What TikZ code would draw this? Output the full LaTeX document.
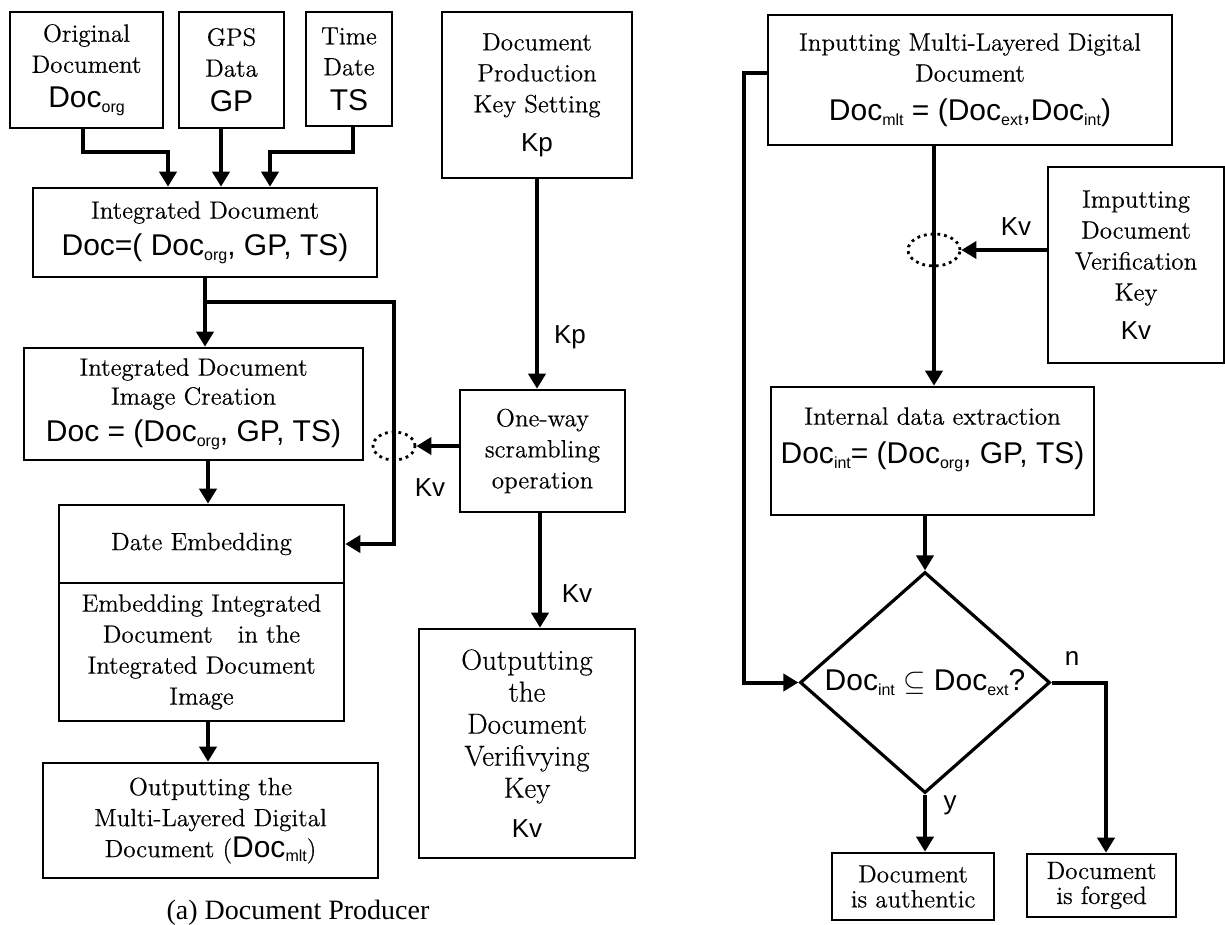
\documentclass[tikz,border=0pt]{standalone}
\usepackage{fontspec}
\usepackage{tikz}
\usetikzlibrary{arrows.meta,shapes.geometric,calc}
\setmainfont{Latin Modern Roman}[FakeBold=0.4]
\newfontfamily\gfont{Liberation Sans}
\newfontfamily\capfont{Liberation Serif}
\definecolor{ink}{HTML}{000000}
\newcommand\rmtext{\fontsize{12.5}{15.5}\selectfont}
\newcommand\rmbig{\fontsize{14.5}{16}\selectfont}
\newcommand\gdoc[1]{{\gfont\fontsize{15}{18}\selectfont #1}}
\newcommand\gkey{\gfont\fontsize{13}{15}\selectfont}
\newcommand\sub[1]{\raisebox{-0.3ex}{\fontsize{8}{8}\selectfont #1}}
\tikzset{
  box/.style={draw=ink,line width=1.3pt,align=center,font=\rmtext,inner sep=2pt},
  bigbox/.style={box,font=\rmbig},
  arr/.style={-{Triangle[length=7.5pt,width=8.5pt]},line width=2pt,draw=ink},
  ring/.style={draw=ink,ellipse,line width=1.4pt,dash pattern=on 1.4pt off 2pt,inner sep=0pt},
  lab/.style={font=\gkey,inner sep=1pt},
}

\begin{document}
\begin{tikzpicture}[x=0.5pt,y=-0.5pt]
\useasboundingbox (0,0) rectangle (1225,925);
% (a) producer side
\node[box,minimum width=76.5pt,minimum height=58pt] (org) at (86.5,70) {Original\\Document\\[2pt]\gdoc{Doc\sub{org}}};
\node[box,minimum width=52.5pt,minimum height=58pt] (gps) at (231.5,70) {GPS\\Data\\[2pt]\gdoc{GP}};
\node[box,minimum width=43pt,minimum height=57pt] (time) at (349,69) {Time\\Date\\[2pt]\gdoc{TS}};
\node[box,minimum width=172pt,minimum height=44.5pt] (integ) at (205,232.5) {Integrated Document\\[3pt]\gdoc{Doc=( Doc\sub{org}, GP, TS)}};
\node[box,minimum width=169.5pt,minimum height=56pt] (imgc) at (193.5,404) {Integrated Document\\[-1pt]Image Creation\\[3pt]\gdoc{Doc = (Doc\sub{org}, GP, TS)}};
\node[box,minimum width=142.5pt,minimum height=39pt] (date) at (201.5,544) {Date Embedding};
\node[box,minimum width=142.5pt,minimum height=69pt] (embed) at (201.5,652) {Embedding Integrated\\Document\quad in the\\Integrated Document\\Image};
\node[box,minimum width=167.5pt,minimum height=57.5pt] (outl) at (210.5,820.5) {Outputting the\\Multi-Layered Digital\\Document (\gdoc{Doc\sub{mlt}})};
\node[box,minimum width=95pt,minimum height=83pt] (key) at (537,95) {Document\\Production\\Key Setting\\[4pt]{\gkey Kp}};
\node[box,minimum width=82.5pt,minimum height=61pt] (oneway) at (542.5,451) {One-way\\scrambling\\operation};
\node[bigbox,minimum width=108pt,minimum height=114.5pt] (verout) at (527,743.5) {Outputting\\the\\Document\\Verifivying\\Key\\[4pt]{\gkey Kv}};
\node[ring,minimum width=21pt,minimum height=14pt] (lring) at (394,446) {};
\node[font=\capfont\fontsize{14}{16}\selectfont] (capa) at (298,913) {(a) Document Producer};
\coordinate (jn) at (205,302);
\draw[arr] (org.south -| 83,0) |- (168,152) -- (integ.north -| 168,0);
\draw[arr] (gps.south -| 221,0) -- (integ.north -| 221,0);
\draw[arr] (time.south -| 353,0) |- (270,152) -- (integ.north -| 270,0);
\draw[line width=2pt] (integ.south) -- (jn);
\draw[arr] (jn) -- (imgc.north -| jn);
\draw[arr] (jn) -| (lring.center) |- (date.east);
\draw[arr] (imgc.south -| 208,0) -- (date.north -| 208,0);
\draw[arr] (embed.south -| 208,0) -- (outl.north -| 208,0);
\draw[arr] (key.south) -- (key.south |- oneway.north);
\draw[arr] (oneway.west |- lring) -- (lring.east);
\draw[arr] (oneway.south -| 540,0) -- (verout.north -| 540,0);
\node[lab] (kp) at (570,337) {Kp};
\node[lab] (kvl) at (430,488) {Kv};
\node[lab] (kvo) at (577,594) {Kv};
% (b) verifier side
\node[box,minimum width=202pt,minimum height=65pt] (input) at (970,80) {Inputting Multi-Layered Digital\\Document\\[4pt]\gdoc{Doc\sub{mlt} = (Doc\sub{ext},Doc\sub{int})}};
\node[box,minimum width=88pt,minimum height=98pt,text depth=0pt] (verin) at (1136,265) {Imputting\\Document\\Verification\\Key\\[4pt]{\gkey Kv}};
\node[box,minimum width=161.5pt,minimum height=64pt] (internal) at (932.5,451) {Internal data extraction\\[4pt]\gdoc{Doc\sub{int}= (Doc\sub{org}, GP, TS)}\\ \mbox{}};
\node[diamond,draw=ink,line width=1.6pt,minimum width=125pt,minimum height=110.5pt,inner sep=0pt,
  label={[font=\gfont\fontsize{15}{18}\selectfont]center:Doc\sub{int} $\subseteq$ Doc\sub{ext}?}] (dia) at (925,682.5) {};
\node[box,minimum width=81pt,minimum height=33.5pt,inner sep=1pt,font=\fontsize{12.5}{12.5}\selectfont] (auth) at (913,886.5) {Document\\is authentic};
\node[box,minimum width=74.5pt,minimum height=31.5pt,inner sep=1pt,font=\fontsize{12.5}{12.5}\selectfont] (forged) at (1101.5,885.5) {Document\\is forged};
\node[ring,minimum width=26pt,minimum height=16pt] (rring) at (934,250) {};
\draw[arr] (input.west |- 0,73) -- (744,73) |- (dia.west);
\draw[arr] (input.south -| rring) -- (internal.north -| rring);
\draw[arr] (verin.west |- rring) -- (rring.east);
\draw[arr] (internal.south -| dia) -- (dia.north);
\draw[arr] (dia.east) -| (forged.north -| 1106,0);
\draw[arr] (dia.south) -- (dia.south |- auth.north);
\node[lab] (kvr) at (1016,227) {Kv};
\node[lab] (nlab) at (1072,658) {n};
\node[lab] (ylab) at (950,805) {y};
\end{tikzpicture}
\end{document}
